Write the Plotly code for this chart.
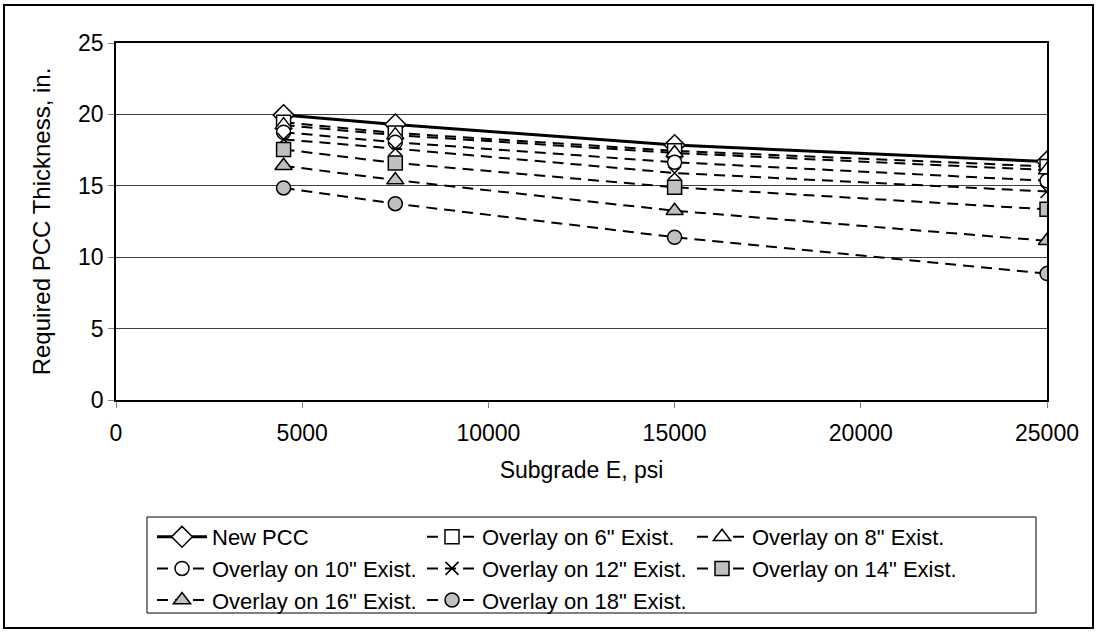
import plotly.graph_objects as go

subgrade_e = [4500, 7500, 15000, 25000]
new_pcc = [19.95, 19.3, 17.85, 16.7]
ov6 = [19.45, 18.7, 17.45, 16.35]
ov8 = [19.25, 18.55, 17.3, 16.1]
ov10 = [18.75, 18.05, 16.65, 15.35]
ov12 = [18.25, 17.6, 15.9, 14.6]
ov14 = [17.55, 16.6, 14.9, 13.35]
ov16 = [16.4, 15.4, 13.25, 11.15]
ov18 = [14.85, 13.75, 11.4, 8.85]

names = ["New PCC", 'Overlay on 6" Exist.', 'Overlay on 8" Exist.', 'Overlay on 10" Exist.',
         'Overlay on 12" Exist.', 'Overlay on 14" Exist.', 'Overlay on 16" Exist.', 'Overlay on 18" Exist.']
series = [new_pcc, ov6, ov8, ov10, ov12, ov14, ov16, ov18]
symbols = ["diamond", "square", "triangle-up", "circle", "x-thin", "square", "triangle-up", "circle"]
sizes = [16, 14, 15, 14, 13, 14, 15, 14]
fills = ["white", "white", "white", "white", "black", "#c0c0c0", "#c0c0c0", "#c0c0c0"]

FONT = "Liberation Sans, Arial, sans-serif"
fig = go.Figure()
for i, (nm, ys, sym, sz, fc) in enumerate(zip(names, series, symbols, sizes, fills)):
    solid = i == 0
    fig.add_trace(go.Scatter(
        x=subgrade_e, y=ys, name=nm, mode="lines+markers",
        line=dict(color="black", width=3 if solid else 2, dash="solid" if solid else "11px,7px"),
        marker=dict(symbol=sym, size=sz, color=fc,
                    line=dict(color="black", width=1.5)),
    ))

# geometry in paper coords (plot area: x 116..1047 px, y 43..400 px)
def px_x(p):
    return (p - 116) / 931.0

def px_y(p):
    return (400 - p) / 357.0

fig.update_layout(
    width=1097, height=632,
    margin=dict(l=116, r=50, t=43, b=232, autoexpand=False),
    paper_bgcolor="white", plot_bgcolor="white",
    font=dict(family=FONT, size=23, color="black"),
    showlegend=True,
    legend=dict(
        orientation="h", x=px_x(152), y=px_y(516), xanchor="left", yanchor="top",
        borderwidth=0, bgcolor="rgba(0,0,0,0)", font=dict(family=FONT, size=22, color="black"),
        itemwidth=50, entrywidth=205, entrywidthmode="pixels", tracegroupgap=0,
    ),
    xaxis=dict(
        range=[0, 25000], dtick=5000, tick0=0, showgrid=False, tickformat="d",
        showline=True, linecolor="black", linewidth=1.5, mirror=True,
        ticks="outside", ticklen=6, tickcolor="#808080", ticklabelstandoff=6,
        tickfont=dict(family=FONT, size=23, color="black"),
        title=dict(text="Subgrade E, psi", standoff=17, font=dict(family=FONT, size=23, color="black")),
        zeroline=False,
    ),
    yaxis=dict(
        range=[0, 25], dtick=5, tick0=0, showgrid=True, gridcolor="#404040", gridwidth=1,
        showline=True, linecolor="black", linewidth=1.5, mirror=True,
        ticks="outside", ticklen=6, tickcolor="#808080",
        tickfont=dict(family=FONT, size=23, color="black"),
        title=dict(text="Required PCC Thickness, in.", standoff=21, font=dict(family=FONT, size=24, color="black")),
        zeroline=False,
    ),
    shapes=[
        dict(type="rect", xref="paper", yref="paper",
             x0=px_x(4), x1=px_x(1093), y0=px_y(628), y1=px_y(5),
             line=dict(color="black", width=2), fillcolor="rgba(0,0,0,0)"),
        dict(type="rect", xref="paper", yref="paper",
             x0=px_x(147), x1=px_x(1036), y0=px_y(613), y1=px_y(517),
             line=dict(color="black", width=1), fillcolor="rgba(0,0,0,0)"),
    ],
)

fig.write_html("out.html")
